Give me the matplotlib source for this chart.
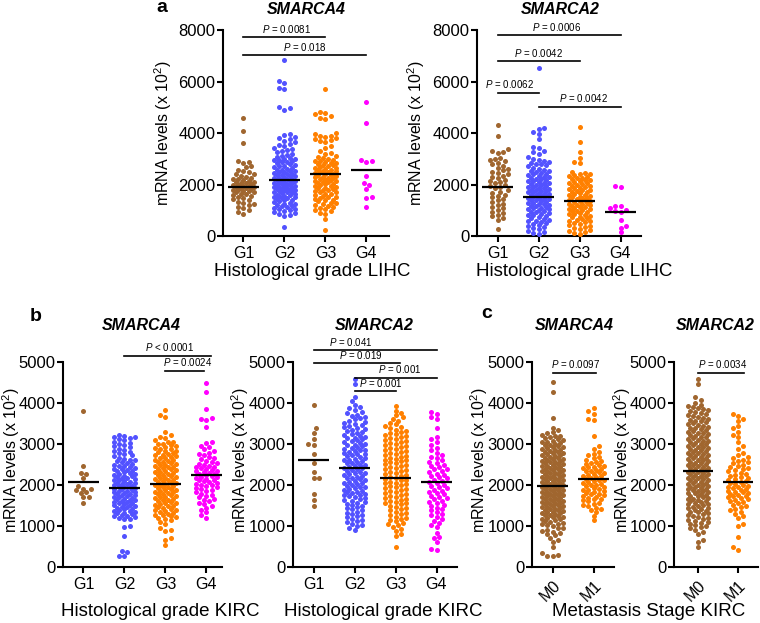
import numpy as np
import matplotlib
matplotlib.use("Agg")
import matplotlib.pyplot as plt

plt.rcParams['font.family'] = ['Liberation Sans', 'DejaVu Sans']
plt.rcParams['mathtext.fontset'] = 'custom'
plt.rcParams['mathtext.rm'] = 'Liberation Sans'
plt.rcParams['mathtext.it'] = 'Liberation Sans:italic'

# ---------------- data (mRNA levels, x 10^2) ----------------
grades = ["G1", "G2", "G3", "G4"]
stages = ["M0", "M1"]

# a: LIHC, SMARCA4
lihc_a4_g1 = [4600, 4060, 3600, 2910, 2880, 2830, 2700, 2680, 2560, 2530, 2470, 2420, 2390, 2330,
              2300, 2260, 2230, 2210, 2170, 2130, 2110, 2080, 2050, 2040, 2010, 1990, 1970, 1950,
              1930, 1920, 1890, 1880, 1850, 1820, 1800, 1790, 1760, 1730, 1700, 1690, 1650, 1620,
              1580, 1550, 1510, 1470, 1420, 1380, 1330, 1290, 1250, 1200, 1140, 1090, 1010, 940, 870]
lihc_a4_g2 = [6820, 6010, 5950, 5760, 5700, 5010, 4960, 4910, 3980, 3910, 3860, 3820, 3770, 3700,
              3650, 3560, 3530, 3480, 3420, 3390, 3330, 3290, 3250, 3190, 3150, 3110, 3060, 3030,
              3000, 2990, 2960, 2940, 2920, 2880, 2860, 2840, 2790, 2770, 2730, 2710, 2690, 2640,
              2620, 2580, 2560, 2540, 2510, 2490, 2470, 2450, 2420, 2400, 2380, 2350, 2330, 2320,
              2290, 2260, 2240, 2220, 2200, 2180, 2160, 2150, 2120, 2100, 2090, 2060, 2050, 2030,
              2010, 1990, 1970, 1950, 1930, 1910, 1900, 1880, 1860, 1840, 1820, 1800, 1780, 1770,
              1740, 1720, 1700, 1690, 1660, 1640, 1610, 1590, 1570, 1550, 1530, 1510, 1490, 1460,
              1440, 1400, 1380, 1350, 1320, 1300, 1260, 1240, 1200, 1180, 1150, 1120, 1090, 1060,
              1040, 1010, 980, 950, 900, 860, 830, 790, 360]
lihc_a4_g3 = [5700, 4800, 4760, 4720, 4650, 4600, 4560, 4010, 3960, 3900, 3870, 3840, 3800, 3760,
              3730, 3680, 3650, 3480, 3400, 3310, 3240, 3180, 3100, 3060, 3010, 2980, 2950, 2930,
              2900, 2880, 2850, 2830, 2790, 2770, 2750, 2720, 2690, 2660, 2640, 2600, 2580, 2560,
              2530, 2510, 2490, 2470, 2450, 2420, 2400, 2380, 2360, 2330, 2310, 2290, 2260, 2240,
              2220, 2190, 2170, 2150, 2120, 2100, 2080, 2050, 2030, 2010, 1990, 1960, 1940, 1910,
              1880, 1860, 1830, 1800, 1770, 1750, 1720, 1690, 1650, 1620, 1590, 1560, 1530, 1500,
              1480, 1440, 1410, 1380, 1340, 1300, 1270, 1230, 1190, 1150, 1120, 1090, 1050, 1010,
              960, 900, 850, 660, 240]
lihc_a4_g4 = [5190, 4400, 2950, 2930, 2880, 2340, 2050, 1980, 1810, 1530, 1480, 1110]
lihc_a4_center = [1920, 2160, 2400, 2550]

# a: LIHC, SMARCA2
lihc_a2_g1 = [4330, 3890, 3360, 3320, 3250, 3210, 3010, 2980, 2940, 2900, 2850, 2780, 2730, 2660,
              2600, 2550, 2490, 2450, 2400, 2340, 2300, 2250, 2190, 2140, 2090, 2040, 1990, 1940,
              1900, 1850, 1780, 1720, 1680, 1610, 1560, 1500, 1440, 1380, 1320, 1260, 1190, 1130,
              1080, 1010, 950, 880, 820, 760, 700, 640, 260]
lihc_a2_g2 = [6510, 4190, 4150, 4030, 3960, 3760, 3450, 3400, 3300, 3260, 3180, 3050, 3000, 2950,
              2920, 2880, 2850, 2810, 2780, 2740, 2700, 2660, 2620, 2580, 2540, 2510, 2480, 2450,
              2420, 2400, 2370, 2340, 2310, 2280, 2250, 2230, 2200, 2170, 2150, 2120, 2090, 2060,
              2040, 2010, 1990, 1970, 1940, 1920, 1900, 1870, 1850, 1830, 1800, 1780, 1760, 1730,
              1710, 1690, 1660, 1640, 1620, 1600, 1580, 1560, 1540, 1520, 1490, 1470, 1440, 1420,
              1400, 1380, 1350, 1330, 1300, 1280, 1250, 1230, 1200, 1180, 1150, 1130, 1100, 1080,
              1050, 1030, 1010, 980, 950, 920, 890, 860, 830, 800, 770, 740, 700, 670, 640, 600,
              570, 540, 510, 480, 440, 400, 350, 300, 260, 210, 160, 110, 60]
lihc_a2_g3 = [4250, 3650, 3260, 3040, 2860, 2820, 2470, 2440, 2410, 2390, 2360, 2330, 2300, 2270,
              2240, 2210, 2190, 2160, 2130, 2100, 2070, 2040, 2010, 1980, 1950, 1930, 1900, 1880,
              1850, 1820, 1800, 1770, 1740, 1720, 1690, 1660, 1640, 1610, 1580, 1560, 1530, 1510,
              1490, 1460, 1440, 1410, 1390, 1360, 1340, 1310, 1290, 1260, 1240, 1210, 1190, 1160,
              1140, 1110, 1090, 1060, 1040, 1010, 990, 960, 930, 900, 870, 840, 810, 780, 750, 720,
              690, 660, 630, 600, 570, 540, 510, 480, 440, 400, 360, 310, 270, 220, 180, 140, 100, 60]
lihc_a2_g4 = [1950, 1920, 1180, 1150, 1080, 1000, 980, 920, 620, 380, 330, 150]
lihc_a2_center = [1890, 1530, 1370, 930]

# b: KIRC, SMARCA4
kirc_a4_g1 = [3800, 2460, 2290, 2270, 2170, 1980, 1910, 1900, 1880, 1820, 1800, 1710, 1700, 1560]
kirc_a4_g2 = [3210, 3195, 3180, 3160, 3140, 3120, 3090, 3060, 3030, 3000, 2975, 2950, 2920, 2890,
              2860, 2830, 2810, 2780, 2750, 2720, 2700, 2670, 2640, 2620, 2600, 2575, 2550, 2530,
              2510, 2490, 2475, 2455, 2440, 2420, 2400, 2385, 2365, 2350, 2330, 2315, 2300, 2280,
              2265, 2245, 2230, 2210, 2195, 2180, 2160, 2145, 2130, 2110, 2095, 2080, 2060, 2045,
              2030, 2015, 1995, 1985, 1970, 1955, 1940, 1925, 1910, 1895, 1880, 1865, 1850, 1835,
              1820, 1805, 1790, 1775, 1760, 1745, 1730, 1715, 1700, 1685, 1670, 1655, 1640, 1625,
              1610, 1595, 1580, 1565, 1550, 1535, 1520, 1505, 1490, 1470, 1455, 1440, 1420, 1405,
              1390, 1370, 1355, 1340, 1320, 1305, 1290, 1270, 1255, 1240, 1220, 1200, 1180, 1160,
              1010, 985, 760, 400, 360, 280, 260]
kirc_a4_g3 = [3820, 3700, 3670, 3290, 3210, 3160, 3140, 3090, 3060, 3040, 3010, 2990, 2970, 2950,
              2920, 2900, 2890, 2870, 2840, 2820, 2800, 2780, 2760, 2740, 2720, 2700, 2690, 2670,
              2650, 2620, 2600, 2590, 2570, 2550, 2530, 2510, 2500, 2480, 2460, 2450, 2430, 2410,
              2390, 2380, 2360, 2340, 2320, 2310, 2290, 2270, 2250, 2240, 2220, 2200, 2180, 2170,
              2150, 2130, 2110, 2100, 2080, 2060, 2040, 2030, 2010, 1990, 1980, 1960, 1940, 1920,
              1910, 1890, 1870, 1850, 1840, 1820, 1800, 1780, 1770, 1750, 1730, 1710, 1700, 1680,
              1660, 1640, 1630, 1610, 1590, 1570, 1560, 1540, 1520, 1500, 1480, 1460, 1440, 1420,
              1400, 1380, 1360, 1340, 1320, 1300, 1280, 1260, 1240, 1220, 1200, 1180, 1140, 1100,
              1060, 950, 910, 870, 700, 670, 540]
kirc_a4_g4 = [4490, 4270, 3860, 3640, 3610, 3590, 3420, 3050, 3020, 2960, 2920, 2870, 2820, 2790,
              2750, 2720, 2680, 2660, 2630, 2590, 2560, 2540, 2510, 2490, 2470, 2450, 2430, 2410,
              2390, 2370, 2350, 2330, 2310, 2290, 2280, 2260, 2240, 2220, 2200, 2190, 2170, 2150,
              2130, 2110, 2090, 2070, 2050, 2030, 2010, 1990, 1970, 1950, 1930, 1900, 1880, 1850,
              1820, 1790, 1760, 1730, 1700, 1670, 1640, 1610, 1570, 1530, 1490, 1440, 1390, 1330,
              1280, 1200]
kirc_a4_center = [2080, 1935, 2015, 2245]

# b: KIRC, SMARCA2
kirc_a2_g1 = [3940, 3380, 3280, 3130, 3000, 2980, 2760, 2540, 2320, 2180, 2160, 1790, 1630, 1500]
kirc_a2_g2 = [4580, 4470, 4150, 4050, 3960, 3905, 3870, 3825, 3790, 3760, 3715, 3690, 3650, 3625,
              3600, 3565, 3540, 3515, 3490, 3460, 3445, 3410, 3390, 3360, 3345, 3310, 3290, 3270,
              3245, 3220, 3200, 3180, 3150, 3135, 3110, 3090, 3070, 3045, 3020, 3005, 2980, 2965,
              2940, 2925, 2900, 2880, 2860, 2845, 2820, 2805, 2780, 2760, 2745, 2720, 2700, 2685,
              2660, 2645, 2620, 2600, 2585, 2560, 2540, 2525, 2500, 2480, 2465, 2440, 2420, 2405,
              2380, 2360, 2345, 2320, 2300, 2285, 2260, 2240, 2225, 2200, 2180, 2165, 2140, 2120,
              2105, 2080, 2060, 2045, 2020, 2000, 1985, 1960, 1940, 1925, 1900, 1880, 1865, 1840,
              1820, 1805, 1780, 1760, 1745, 1720, 1700, 1680, 1655, 1630, 1610, 1585, 1560, 1540,
              1515, 1490, 1460, 1430, 1405, 1380, 1350, 1320, 1295, 1270, 1240, 1210, 1180, 1150,
              1120, 1090, 1060, 1030, 990, 950, 900]
kirc_a2_g3 = [3930, 3810, 3760, 3700, 3655, 3610, 3570, 3520, 3480, 3445, 3410, 3380, 3350, 3320,
              3290, 3260, 3240, 3215, 3190, 3160, 3140, 3115, 3090, 3065, 3040, 3020, 2995, 2970,
              2950, 2925, 2900, 2880, 2855, 2830, 2810, 2785, 2760, 2740, 2715, 2690, 2670, 2645,
              2620, 2600, 2575, 2550, 2530, 2505, 2480, 2460, 2435, 2410, 2390, 2365, 2340, 2320,
              2295, 2270, 2250, 2225, 2200, 2180, 2155, 2130, 2110, 2085, 2060, 2040, 2015, 1990,
              1970, 1945, 1920, 1900, 1875, 1850, 1830, 1805, 1780, 1760, 1735, 1710, 1690, 1665,
              1640, 1620, 1595, 1570, 1550, 1525, 1500, 1470, 1440, 1410, 1380, 1350, 1320, 1290,
              1260, 1230, 1200, 1170, 1140, 1110, 1080, 1050, 1020, 980, 930, 880, 800, 760, 480]
kirc_a2_g4 = [3770, 3740, 3650, 3600, 3400, 3180, 3120, 3050, 2980, 2900, 2850, 2790, 2720, 2680,
              2650, 2610, 2570, 2540, 2500, 2470, 2430, 2400, 2380, 2340, 2310, 2280, 2250, 2220,
              2190, 2160, 2130, 2100, 2070, 2040, 2010, 1980, 1950, 1920, 1890, 1860, 1830, 1800,
              1770, 1740, 1710, 1680, 1650, 1620, 1590, 1560, 1520, 1490, 1450, 1420, 1380, 1340,
              1300, 1260, 1220, 1180, 1130, 1080, 1030, 980, 820, 720, 700, 600, 450, 410]
kirc_a2_center = [2610, 2420, 2165, 2080]

# c: KIRC metastasis stage
meta_a4_m0 = [4510, 4270, 3640, 3400, 3330, 3290, 3260, 3230, 3200, 3185, 3160, 3140, 3120, 3100,
              3085, 3060, 3045, 3020, 3000, 2985, 2965, 2950, 2930, 2915, 2900, 2880, 2865, 2850,
              2830, 2815, 2800, 2785, 2770, 2750, 2735, 2720, 2705, 2690, 2670, 2655, 2640, 2625,
              2610, 2595, 2580, 2565, 2550, 2535, 2520, 2505, 2490, 2475, 2460, 2445, 2430, 2415,
              2400, 2385, 2370, 2355, 2340, 2330, 2315, 2300, 2285, 2270, 2260, 2245, 2230, 2215,
              2200, 2190, 2175, 2160, 2145, 2130, 2120, 2105, 2090, 2075, 2060, 2050, 2035, 2020,
              2005, 1995, 1980, 1965, 1950, 1940, 1925, 1910, 1895, 1885, 1870, 1855, 1840, 1830,
              1815, 1800, 1785, 1775, 1760, 1745, 1730, 1720, 1705, 1690, 1675, 1665, 1650, 1635,
              1620, 1610, 1595, 1580, 1565, 1555, 1540, 1525, 1510, 1500, 1485, 1470, 1455, 1440,
              1425, 1410, 1395, 1380, 1365, 1350, 1335, 1320, 1305, 1290, 1275, 1260, 1240, 1225,
              1210, 1190, 1175, 1160, 1140, 1120, 1100, 1080, 1060, 1040, 1020, 1000, 960, 940,
              910, 880, 860, 840, 800, 770, 700, 650, 600, 480, 350, 300, 270, 260]
meta_a4_m1 = [3870, 3800, 3720, 3610, 3590, 3190, 2960, 2880, 2800, 2760, 2720, 2680, 2650, 2620,
              2590, 2560, 2540, 2510, 2490, 2470, 2450, 2430, 2410, 2390, 2370, 2350, 2330, 2310,
              2290, 2270, 2250, 2230, 2210, 2190, 2170, 2150, 2130, 2110, 2090, 2070, 2050, 2030,
              2010, 1990, 1970, 1950, 1930, 1910, 1890, 1870, 1850, 1830, 1810, 1790, 1770, 1750,
              1730, 1710, 1690, 1670, 1650, 1630, 1600, 1570, 1540, 1510, 1480, 1450, 1420, 1380,
              1340, 1250, 1140]
meta_a4_center = [1975, 2145]

meta_a2_m0 = [4580, 4470, 4150, 4080, 4010, 3960, 3930, 3900, 3870, 3850, 3820, 3800, 3775, 3750,
              3730, 3705, 3680, 3660, 3635, 3615, 3590, 3570, 3550, 3525, 3505, 3485, 3460, 3440,
              3420, 3400, 3380, 3360, 3340, 3320, 3300, 3280, 3260, 3240, 3220, 3200, 3180, 3165,
              3145, 3125, 3105, 3085, 3065, 3050, 3030, 3010, 2990, 2975, 2955, 2935, 2920, 2900,
              2880, 2865, 2845, 2830, 2810, 2790, 2775, 2755, 2740, 2720, 2705, 2685, 2670, 2650,
              2635, 2615, 2600, 2580, 2565, 2545, 2530, 2510, 2495, 2480, 2460, 2445, 2425, 2410,
              2395, 2375, 2360, 2345, 2325, 2310, 2295, 2275, 2260, 2245, 2225, 2210, 2195, 2180,
              2160, 2145, 2130, 2110, 2095, 2080, 2060, 2045, 2030, 2010, 1995, 1980, 1960, 1945,
              1930, 1910, 1895, 1880, 1860, 1845, 1825, 1810, 1795, 1775, 1760, 1740, 1725, 1705,
              1690, 1670, 1655, 1635, 1615, 1600, 1580, 1560, 1545, 1525, 1505, 1490, 1470, 1450,
              1430, 1410, 1390, 1370, 1350, 1330, 1310, 1290, 1270, 1250, 1225, 1200, 1180, 1155,
              1130, 1105, 1080, 1055, 1030, 1000, 970, 940, 900, 860, 800, 650, 600, 490]
meta_a2_m1 = [3720, 3690, 3620, 3560, 3450, 3380, 3300, 3230, 3180, 3050, 2950, 2880, 2790, 2720,
              2680, 2650, 2620, 2590, 2560, 2530, 2500, 2470, 2440, 2410, 2390, 2360, 2330, 2300,
              2280, 2250, 2230, 2200, 2180, 2150, 2130, 2100, 2080, 2050, 2030, 2000, 1980, 1960,
              1940, 1920, 1900, 1880, 1860, 1840, 1820, 1800, 1780, 1760, 1740, 1720, 1700, 1680,
              1660, 1640, 1610, 1580, 1550, 1520, 1490, 1460, 1420, 1380, 1340, 1300, 1250, 1200,
              1050, 1000, 720, 500, 420]
meta_a2_center = [2340, 2065]

# ---------------- styling ----------------
BROWN = '#A0662F'
BLUE = '#5252FF'
ORANGE = '#FF8000'
MAGENTA = '#FF00FF'

W, H = 760, 623
fig = plt.figure(figsize=(W / 100, H / 100), dpi=100)


def add_ax(x0, x1, y_top, y_bot):
    return fig.add_axes([x0 / W, 1 - y_bot / H, (x1 - x0) / W, (y_bot - y_top) / H])


def fig_text(x, y, s, **kw):
    fig.text(x / W, 1 - y / H, s, **kw)


def swarm_offsets(vals, px_per_y, diam=4.7, maxhalf=12.5):
    v = np.asarray(vals, float)
    ys = v * px_per_y
    order = np.argsort(v)
    step = diam * 0.55
    kmax = int(maxhalf / step)
    offs = np.zeros(len(v))
    px, py = [], []
    for n, i in enumerate(order):
        sgn = 1 if n % 2 == 0 else -1
        cands = [0.0]
        for k in range(1, kmax + 1):
            cands += [sgn * k * step, -sgn * k * step]
        y = ys[i]
        if px:
            ax_ = np.array(px)
            ay_ = np.array(py)
            m = np.abs(ay_ - y) < diam
            nx, ny = ax_[m], ay_[m]
        else:
            nx = ny = np.array([])
        chosen = None
        bestd, bestc = -1, 0.0
        for c in cands:
            if len(nx) == 0:
                chosen = c
                break
            d = np.min((nx - c) ** 2 + (ny - y) ** 2)
            if d >= (diam * 0.95) ** 2:
                chosen = c
                break
            if d > bestd:
                bestd, bestc = d, c
        if chosen is None:
            chosen = bestc
        offs[i] = chosen
        px.append(chosen)
        py.append(y)
    return offs


def panel(ax, groups, colors, centers, labels, ymax, yticks, px_w, px_h, xlim,
          rot=False):
    xspan = xlim[1] - xlim[0]
    px_per_x = px_w / xspan
    px_per_y = px_h / ymax
    for k, (vals, col) in enumerate(zip(groups, colors)):
        xpos = k + 1
        offs = swarm_offsets(vals, px_per_y)
        ax.scatter(xpos + offs / px_per_x, vals, s=13, color=col, linewidths=0,
                   zorder=3, clip_on=False)
        ax.plot([xpos - 0.38, xpos + 0.38], [centers[k], centers[k]],
                color='black', lw=1.6, zorder=4, solid_capstyle='butt')
    ax.set_xlim(*xlim)
    ax.set_ylim(0, ymax)
    ax.set_xticks(range(1, len(groups) + 1))
    if rot:
        ax.set_xticklabels(labels, rotation=45, ha='right', va='top',
                           rotation_mode='anchor')
    else:
        ax.set_xticklabels(labels)
    ax.set_yticks(yticks)
    ax.set_yticklabels([str(t) for t in yticks])
    for s in ['top', 'right']:
        ax.spines[s].set_visible(False)
    for s in ['left', 'bottom']:
        ax.spines[s].set_linewidth(1.5)
    ax.tick_params(axis='both', width=1.5, length=4.5, color='black')
    ax.tick_params(axis='y', labelsize=12, pad=1)
    ax.tick_params(axis='x', labelsize=11.5, pad=3)
    ax.set_facecolor('none')


def sig(ax, x1, x2, y, text, tx):
    ax.plot([x1, x2], [y, y], color='black', lw=1.2, clip_on=False, zorder=5)
    ax.annotate(text, xy=(tx, y), xytext=(0, 3.2), textcoords='offset points',
                ha='center', va='baseline', fontsize=7, annotation_clip=False)


grade_cols = [BROWN, BLUE, ORANGE, MAGENTA]
stage_cols = [BROWN, ORANGE]
ylab = 'mRNA levels (x 10$^{2}$)'

# ---- a ----
ax1 = add_ax(223, 389, 30, 236)
panel(ax1, [lihc_a4_g1, lihc_a4_g2, lihc_a4_g3, lihc_a4_g4], grade_cols, lihc_a4_center,
      grades, 8000, [0, 2000, 4000, 6000, 8000], 166, 206, (0.5, 4.55))
sig(ax1, 1, 3, 7720, '$\\mathit{P}$ = 0.0081', 2.05)
sig(ax1, 1, 4, 7030, '$\\mathit{P}$ = 0.018', 2.5)

ax2 = add_ax(477, 641, 30, 236)
panel(ax2, [lihc_a2_g1, lihc_a2_g2, lihc_a2_g3, lihc_a2_g4], grade_cols, lihc_a2_center,
      grades, 8000, [0, 2000, 4000, 6000, 8000], 164, 206, (0.5, 4.5))
sig(ax2, 1, 4, 7800, '$\\mathit{P}$ = 0.0006', 2.45)
sig(ax2, 1, 3, 6780, '$\\mathit{P}$ = 0.0042', 2.0)
sig(ax2, 1, 2, 5570, '$\\mathit{P}$ = 0.0062', 1.3)
sig(ax2, 2, 4, 5020, '$\\mathit{P}$ = 0.0042', 3.1)

# ---- b ----
ax3 = add_ax(63, 222, 362, 567)
panel(ax3, [kirc_a4_g1, kirc_a4_g2, kirc_a4_g3, kirc_a4_g4], grade_cols, kirc_a4_center,
      grades, 5000, [0, 1000, 2000, 3000, 4000, 5000], 159, 205, (0.5, 4.38))
sig(ax3, 2, 4.1, 5150, '$\\mathit{P}$ < 0.0001', 3.1)
sig(ax3, 3, 3.95, 4790, '$\\mathit{P}$ = 0.0024', 3.55)

ax4 = add_ax(293, 457, 362, 567)
panel(ax4, [kirc_a2_g1, kirc_a2_g2, kirc_a2_g3, kirc_a2_g4], grade_cols, kirc_a2_center,
      grades, 5000, [0, 1000, 2000, 3000, 4000, 5000], 164, 205, (0.5, 4.5))
sig(ax4, 1, 4, 5290, '$\\mathit{P}$ = 0.041', 1.92)
sig(ax4, 1, 3.1, 4970, '$\\mathit{P}$ = 0.019', 2.15)
sig(ax4, 2, 4, 4620, '$\\mathit{P}$ = 0.001', 3.1)
sig(ax4, 2, 3, 4285, '$\\mathit{P}$ = 0.001', 2.65)

# ---- c ----
ax5 = add_ax(532, 614, 362, 567)
panel(ax5, [meta_a4_m0, meta_a4_m1], stage_cols, meta_a4_center, stages,
      5000, [0, 1000, 2000, 3000, 4000, 5000], 82, 205, (0.5, 2.5), rot=True)
sig(ax5, 1, 2.05, 4740, '$\\mathit{P}$ = 0.0097', 1.55)

ax6 = add_ax(674, 758, 362, 567)
panel(ax6, [meta_a2_m0, meta_a2_m1], stage_cols, meta_a2_center, stages,
      5000, [0, 1000, 2000, 3000, 4000, 5000], 84, 205, (0.4, 2.5), rot=True)
sig(ax6, 1, 2.15, 4740, '$\\mathit{P}$ = 0.0034', 1.62)

# ---- titles, labels ----
tkw = dict(fontsize=11.5, fontweight='bold', fontstyle='italic', ha='center', va='center')
fig_text(306, 10, 'SMARCA4', **tkw)
fig_text(560, 10, 'SMARCA2', **tkw)
fig_text(141, 325, 'SMARCA4', **tkw)
fig_text(374, 325, 'SMARCA2', **tkw)
fig_text(574, 325, 'SMARCA4', **tkw)
fig_text(715, 325, 'SMARCA2', **tkw)

lkw = dict(fontsize=14, fontweight='bold', ha='center', va='baseline')
fig_text(162, 12, 'a', **lkw)
fig_text(36, 321, 'b', **lkw)
fig_text(487, 318, 'c', **lkw)

ykw = dict(fontsize=11.5, rotation=90, ha='center', va='center')
fig_text(163, 133, ylab, **ykw)
fig_text(416, 133, ylab, **ykw)
fig_text(11, 460, ylab, **ykw)
fig_text(240, 460, ylab, **ykw)
fig_text(479, 460, ylab, **ykw)
fig_text(622, 460, ylab, **ykw)

xkw = dict(fontsize=13.5, ha='center', va='center')
fig_text(312, 271, 'Histological grade LIHC', **xkw)
fig_text(574, 271, 'Histological grade LIHC', **xkw)
fig_text(160, 612, 'Histological grade KIRC', **xkw)
fig_text(383, 612, 'Histological grade KIRC', **xkw)
fig_text(649, 612, 'Metastasis Stage KIRC', **xkw)

fig.savefig('out.png', dpi=100)
